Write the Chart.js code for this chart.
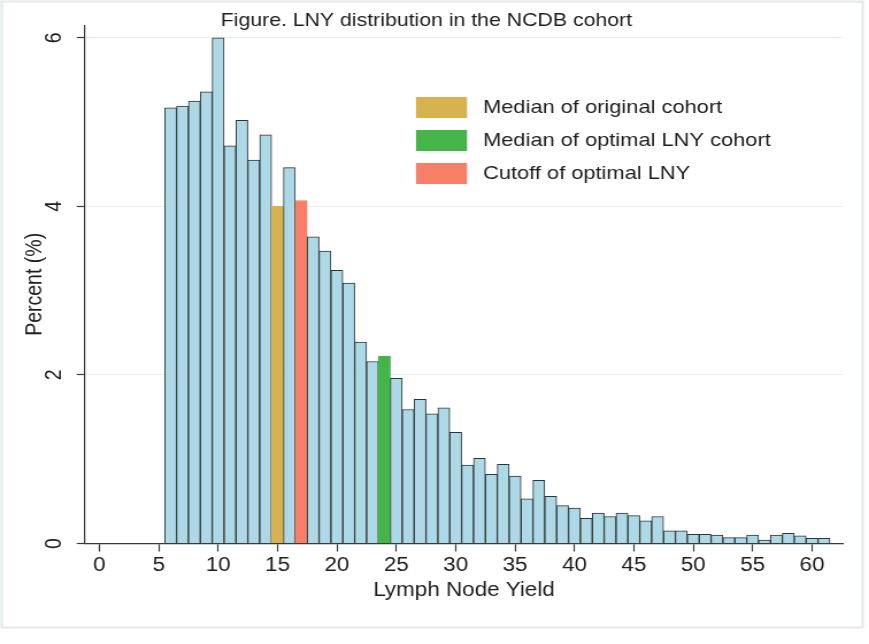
<!DOCTYPE html>
<html><head><meta charset="utf-8">
<script src="https://cdn.jsdelivr.net/npm/chart.js@4/dist/chart.umd.min.js"></script>
<style>
html,body{margin:0;padding:0;background:#fff;overflow:hidden}
#wrap{width:756px;height:644px;transform:scaleX(1.1495);transform-origin:0 0;}
canvas{display:block}
</style></head><body>
<div id="wrap"><canvas id="c" width="756" height="644"></canvas></div>
<script>
const titleText = 'Figure. LNY distribution in the NCDB cohort';
const xAxisTitle = 'Lymph Node Yield';
const yAxisTitle = 'Percent (%)';
const lnyValues = [6,7,8,9,10,11,12,13,14,15,16,17,18,19,20,21,22,23,24,25,26,27,28,29,30,31,32,33,34,35,36,37,38,39,40,41,42,43,44,45,46,47,48,49,50,51,52,53,54,55,56,57,58,59,60,61];
const percentValues = [5.17,5.19,5.25,5.36,6.00,4.72,5.02,4.55,4.85,4.00,4.46,4.07,3.64,3.47,3.24,3.09,2.39,2.16,2.22,1.96,1.59,1.71,1.54,1.61,1.32,0.93,1.01,0.82,0.94,0.80,0.53,0.75,0.56,0.45,0.42,0.30,0.36,0.32,0.36,0.33,0.27,0.32,0.15,0.15,0.11,0.11,0.10,0.07,0.07,0.10,0.04,0.10,0.12,0.09,0.06,0.06];
const xTickValues = [0,5,10,15,20,25,30,35,40,45,50,55,60];
const yTickValues = [0,2,4,6];
const markerLabels = ['Median of original cohort','Median of optimal LNY cohort','Cutoff of optimal LNY'];
const markerLNY = [15, 24, 17];

const markerColors = ['#d8b24e','#45b549','#f77f68'];
const barColor = '#add8e6';
const barEdge = '#2e3436';
const axisColor = '#3a3a3a';
const textColor = '#1c1c1c';
const FONT = "'Liberation Sans', Arial, Helvetica, sans-serif";

const fills = lnyValues.map(v => { const k = markerLNY.indexOf(v); return k >= 0 ? markerColors[k] : barColor; });
const edges = lnyValues.map(v => { const k = markerLNY.indexOf(v); return k >= 0 ? markerColors[k] : barEdge; });

const framePlugin = {
  id: 'frame',
  beforeDraw(chart) {
    const ctx = chart.ctx;
    ctx.save();
    ctx.fillStyle = '#fff';
    ctx.fillRect(0, 0, chart.width, chart.height);
    ctx.strokeStyle = '#e2eaea';
    ctx.lineWidth = 2;
    ctx.strokeRect(1.5, 1.5, 749, 626);
    ctx.restore();
  }
};

const titleLegendPlugin = {
  id: 'titleLegend',
  afterDraw(chart) {
    const ctx = chart.ctx;
    ctx.save();
    ctx.fillStyle = textColor;
    ctx.font = '18.5px ' + FONT;
    ctx.textAlign = 'center';
    ctx.textBaseline = 'alphabetic';
    ctx.fillText(titleText, 370.9, 25.5);
    ctx.textAlign = 'left';
    ctx.textBaseline = 'middle';
    ctx.font = '19px ' + FONT;
    markerLabels.forEach((lab, i) => {
      const y0 = 97 + i * 33;
      ctx.fillStyle = markerColors[i];
      ctx.fillRect(361.9, y0, 44.4, 21);
      ctx.fillStyle = textColor;
      ctx.fillText(lab, 420.2, y0 + 11);
    });
    ctx.restore();
  }
};

new Chart(document.getElementById('c'), {
  type: 'bar',
  data: {
    datasets: [{
      data: lnyValues.map((x, i) => ({ x: x, y: percentValues[i] })),
      backgroundColor: fills,
      borderColor: edges,
      borderWidth: 1,
      barPercentage: 1,
      categoryPercentage: 1
    }]
  },
  options: {
    responsive: false,
    animation: false,
    events: [],
    layout: { padding: { top: 22, right: 22.6, left: 0, bottom: 0 } },
    plugins: { legend: { display: false }, title: { display: false }, tooltip: { enabled: false } },
    scales: {
      x: {
        type: 'linear', min: -1.205, max: 62.61, offset: false,
        afterBuildTicks: s => { s.ticks = xTickValues.map(v => ({ value: v })); },
        afterFit: s => { s.height = 100.5; },
        grid: { display: true, drawOnChartArea: false, offset: false, tickLength: 8, tickColor: axisColor, tickWidth: 1.2 },
        border: { display: true, color: axisColor, width: 1.3 },
        ticks: { autoSkip: false, maxRotation: 0, minRotation: 0, padding: 2, color: textColor, font: { family: FONT, size: 19.5 } },
        title: { display: true, text: xAxisTitle, color: textColor, font: { family: FONT, size: 19.5 }, padding: { top: 0, bottom: 42 } }
      },
      y: {
        min: 0, max: 6.15,
        afterBuildTicks: s => { s.ticks = yTickValues.map(v => ({ value: v })); },
        afterFit: s => { s.width = 73.95; },
        grid: { color: '#e3eeee', lineWidth: 1, tickColor: axisColor, tickLength: 7.2, tickWidth: 1.2 },
        border: { display: true, color: axisColor, width: 1.2 },
        ticks: { minRotation: 90, maxRotation: 90, crossAlign: 'center', padding: 13.5, color: textColor, font: { family: FONT, size: 19.5 } },
        title: { display: true, text: yAxisTitle, color: textColor, font: { family: FONT, size: 19.5 }, padding: { top: 19, bottom: 0 } }
      }
    }
  },
  plugins: [framePlugin, titleLegendPlugin]
});
</script>
</body></html>
